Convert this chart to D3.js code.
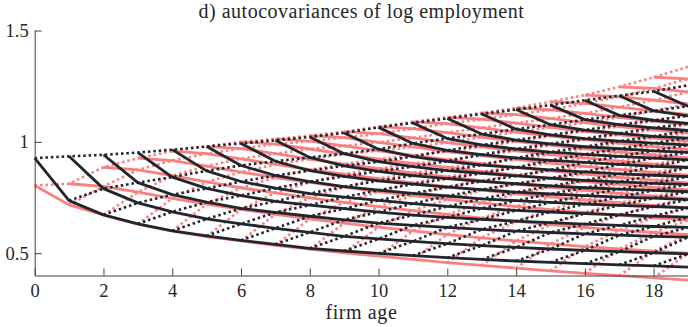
<!DOCTYPE html>
<html><head><meta charset="utf-8">
<script src="https://cdn.jsdelivr.net/npm/d3@7"></script>
<style>
body{margin:0;background:#fff}
svg text{font-family:"Liberation Serif","Times New Roman",serif;fill:#262626}
</style>
</head><body>
<svg id="chart" width="688" height="327"></svg>
<script>
const titleText = "d) autocovariances of log employment";
const xLabelText = "firm age";
const xTickValues = [0,2,4,6,8,10,12,14,16,18];
const yTickValues = [0.5,1,1.5];
// row a = cohort observed at age a; entry h = autocovariance between age a and age a+h
const modelCov = [
[0.927,0.736,0.672,0.632,0.600,0.578,0.558,0.540,0.522,0.510,0.499,0.489,0.480,0.472,0.465,0.459,0.453,0.448,0.443,0.438],
[0.935,0.790,0.726,0.686,0.654,0.632,0.612,0.594,0.576,0.564,0.553,0.543,0.534,0.526,0.519,0.513,0.507,0.502,0.497],
[0.942,0.817,0.763,0.729,0.701,0.683,0.666,0.650,0.635,0.625,0.616,0.607,0.599,0.593,0.587,0.581,0.576,0.572],
[0.952,0.842,0.791,0.759,0.733,0.716,0.700,0.685,0.671,0.661,0.652,0.644,0.637,0.631,0.625,0.620,0.616],
[0.965,0.870,0.822,0.792,0.768,0.752,0.737,0.723,0.710,0.701,0.692,0.685,0.678,0.672,0.667,0.662],
[0.979,0.894,0.849,0.821,0.799,0.783,0.769,0.757,0.744,0.736,0.728,0.721,0.715,0.709,0.704],
[0.993,0.913,0.871,0.845,0.825,0.810,0.797,0.786,0.774,0.766,0.759,0.752,0.747,0.741],
[1.007,0.930,0.892,0.868,0.848,0.835,0.823,0.812,0.802,0.794,0.788,0.782,0.776],
[1.022,0.947,0.911,0.889,0.871,0.859,0.847,0.837,0.827,0.820,0.814,0.809],
[1.040,0.967,0.934,0.913,0.896,0.885,0.874,0.865,0.856,0.850,0.844],
[1.065,0.993,0.962,0.943,0.928,0.917,0.908,0.899,0.890,0.885],
[1.085,1.015,0.986,0.968,0.954,0.944,0.935,0.927,0.919],
[1.105,1.035,1.008,0.991,0.978,0.969,0.960,0.953],
[1.125,1.057,1.031,1.015,1.003,0.994,0.986],
[1.145,1.077,1.053,1.038,1.025,1.017],
[1.165,1.100,1.077,1.063,1.051],
[1.187,1.119,1.097,1.083],
[1.207,1.139,1.117],
[1.227,1.160],
[1.254]
];
const dataCov = [
[0.804,0.717,0.672,0.630,0.600,0.575,0.555,0.535,0.518,0.502,0.487,0.472,0.458,0.445,0.433,0.421,0.410,0.399,0.389,0.379],
[0.812,0.800,0.774,0.746,0.720,0.697,0.675,0.654,0.635,0.617,0.600,0.584,0.569,0.555,0.542,0.530,0.519,0.509,0.500],
[0.886,0.874,0.848,0.820,0.794,0.771,0.749,0.728,0.709,0.691,0.674,0.658,0.643,0.629,0.616,0.604,0.593,0.583],
[0.927,0.916,0.891,0.864,0.840,0.818,0.797,0.777,0.759,0.742,0.726,0.710,0.696,0.683,0.671,0.659,0.649],
[0.958,0.947,0.924,0.899,0.875,0.855,0.835,0.816,0.799,0.783,0.767,0.753,0.739,0.727,0.715,0.704],
[0.980,0.970,0.947,0.923,0.900,0.880,0.861,0.843,0.826,0.810,0.796,0.782,0.769,0.756,0.745],
[1.000,0.990,0.968,0.945,0.923,0.903,0.885,0.867,0.851,0.836,0.822,0.809,0.796,0.784],
[1.013,1.003,0.982,0.960,0.939,0.920,0.902,0.885,0.870,0.855,0.841,0.828,0.816],
[1.028,1.019,0.998,0.977,0.956,0.938,0.921,0.905,0.890,0.876,0.863,0.850],
[1.046,1.037,1.018,0.997,0.977,0.960,0.943,0.928,0.913,0.900,0.887],
[1.068,1.059,1.041,1.021,1.002,0.985,0.969,0.954,0.941,0.928],
[1.090,1.082,1.063,1.044,1.026,1.010,0.994,0.979,0.966],
[1.110,1.102,1.084,1.065,1.047,1.032,1.017,1.003],
[1.130,1.122,1.105,1.086,1.069,1.054,1.040],
[1.152,1.144,1.128,1.110,1.093,1.078],
[1.180,1.173,1.156,1.139,1.123],
[1.210,1.203,1.187,1.170],
[1.247,1.240,1.224],
[1.290,1.283],
[1.337]
];

const darkColor = "#22252d";
const pinkColor = "#fa7f7f";

const svg = d3.select("#chart");
const x = d3.scaleLinear().domain([0,19]).range([34.7,688]);
const y = d3.scaleLinear().domain([0.4,1.5]).range([275.5,30.5]);
const line = d3.line().x(d=>x(d[0])).y(d=>y(d[1]));

function cohortLines(rows){ // solid: fixed starting age
  return rows.map((r,a)=>r.map((v,h)=>[a+h,v]));
}
function lagLines(rows){ // dotted: fixed lag
  const out=[];
  const maxLag = d3.max(rows,r=>r.length);
  for(let h=0;h<maxLag;h++){
    const pts=[];
    rows.forEach((r,a)=>{ if(h<r.length) pts.push([a+h,r[h]]); });
    if(pts.length>1) out.push(pts);
  }
  return out;
}

function drawSet(rows,color){
  const g = svg.append("g");
  g.selectAll("path.s").data(cohortLines(rows).filter(p=>p.length>1)).join("path")
    .attr("class","s").attr("d",line).attr("fill","none")
    .attr("stroke",color).attr("stroke-width",2.8).attr("stroke-linejoin","round");
  g.selectAll("path.d").data(lagLines(rows)).join("path")
    .attr("class","d").attr("d",line).attr("fill","none")
    .attr("stroke",color).attr("stroke-width",2.6).attr("stroke-dasharray","2.5,2.9");
}
drawSet(dataCov,pinkColor);
drawSet(modelCov,darkColor);

// axes
const yAxis = d3.axisLeft(y).tickValues(yTickValues).tickFormat(d=>String(d))
  .tickSizeInner(-7).tickSizeOuter(0).tickPadding(6);
const xAxis = d3.axisBottom(x).tickValues(xTickValues).tickFormat(d=>String(d))
  .tickSizeInner(-7).tickSizeOuter(0).tickPadding(8);
const gy = svg.append("g").attr("transform","translate(34.7,0)").call(yAxis);
const gx = svg.append("g").attr("transform","translate(0,275.5)").call(xAxis);
[gx,gy].forEach(g=>{
  g.select(".domain").attr("stroke","#404040").attr("stroke-width",1);
  g.selectAll(".tick line").attr("stroke","#404040").attr("stroke-width",1);
  g.selectAll("text").attr("font-family",null).attr("font-size",18.5).attr("fill","#262626");
});

svg.append("text").attr("x",361.4).attr("y",18).attr("text-anchor","middle")
  .attr("font-size",20).attr("letter-spacing",0.5).text(titleText);
svg.append("text").attr("x",361.4).attr("y",319).attr("text-anchor","middle")
  .attr("font-size",20).attr("letter-spacing",0.6).text(xLabelText);
</script>
</body></html>
